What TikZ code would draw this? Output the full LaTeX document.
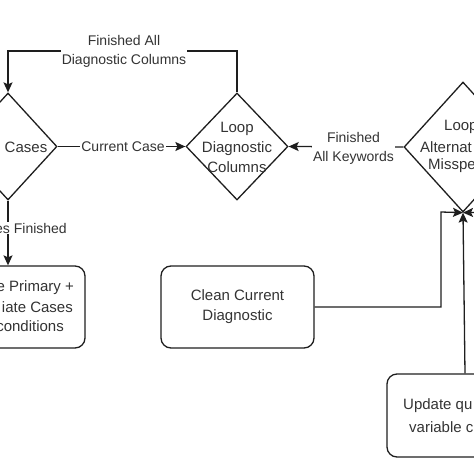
\documentclass[tikz,border=0pt]{standalone}
\usepackage{fontspec}
\setmainfont{Liberation Sans}
\usetikzlibrary{shapes.geometric,arrows.meta}
\definecolor{ln}{HTML}{1E1E1E}
\definecolor{tx}{HTML}{333333}
\tikzset{
  dia/.style={draw=ln,line width=1.3pt,shape=diamond,inner sep=0pt,minimum width=#1},
  rbox/.style={draw=ln,line width=1.3pt,rounded corners=10pt,inner sep=0pt},
  ntext/.style={text=tx,font=\fontsize{15}{20}\selectfont,inner sep=0pt},
  ltext/.style={text=tx,font=\fontsize{14}{19}\selectfont,fill=white,inner sep=1pt,align=center},
  conn/.style={draw=ln,line width=1.3pt,-{Stealth[length=10pt,width=9pt,inset=2pt]}},
  plain/.style={draw=ln,line width=1.3pt}
}
\begin{document}
\begin{tikzpicture}[x=1pt,y=-1pt]
\useasboundingbox (0,0) rectangle (474,474);
\clip (0,0) rectangle (474,474);
% shapes
\node[dia=98pt,minimum height=107pt] (d1) at (8,146.5) {};
\node[dia=102pt,minimum height=107pt] (d2) at (237,146.5) {};
\node[dia=118pt,minimum height=130pt] (d3) at (463,147) {};
\node[rbox,minimum width=154pt,minimum height=82pt] (b1) at (8,307) {};
\node[rbox,minimum width=153pt,minimum height=82pt] (b2) at (237.5,307) {};
\node[rbox,minimum width=156pt,minimum height=83pt] (b3) at (465,415.5) {};
% texts
\node[ntext] (t1) at (26,147) {Cases};
\node[ntext,align=center] (t2) at (237,147) {Loop\\Diagnostic\\Columns};
\node[ntext,anchor=west] (t3a) at (444,127) {Loop};
\node[ntext,anchor=west] (t3b) at (420,147) {Alternat};
\node[ntext,anchor=west] (t3c) at (428,166) {Misspe};
\node[ntext,anchor=east] (t4a) at (74,288) {e Primary +};
\node[ntext,anchor=east] (t4b) at (73,307) {iate Cases};
\node[ntext,anchor=east] (t4c) at (64,326) {conditions};
\node[ntext,align=center] (t5) at (237.5,307) {Clean Current\\Diagnostic};
\node[ntext,anchor=west] (t6a) at (403,406) {Update qu};
\node[ntext,anchor=west] (t6b) at (409,427) {variable c};
% coordinates
\coordinate (topL) at (8,51);
\coordinate (topR) at (237,51);
\coordinate (bend1) at (441,307);
\coordinate (bend2) at (441,212);
\coordinate (offR) at (500,212);
% connectors
\draw[conn] (d2.north) -- (topR) -- (topL) -- (d1.north);
\node[ltext] (l1) at (124,51) {Finished All\\Diagnostic Columns};
\draw[conn] (d1.east) -- (d2.west);
\node[ltext] (l2) at (123,147) {Current Case};
\draw[conn] (d3.west) -- (d2.east);
\node[ltext] (l3) at (353.5,148) {Finished\\All Keywords};
\draw[conn] (d1.south) -- (b1.north);
\node[ltext,anchor=east] (l4) at (68,228) {es Finished};
\draw[conn] (b2.east) -- (bend1) -- (bend2) -- (d3.south);
\draw[conn] (b3.north) -- (d3.south);
\draw[conn] (offR) -- (d3.south);
\end{tikzpicture}
\end{document}
